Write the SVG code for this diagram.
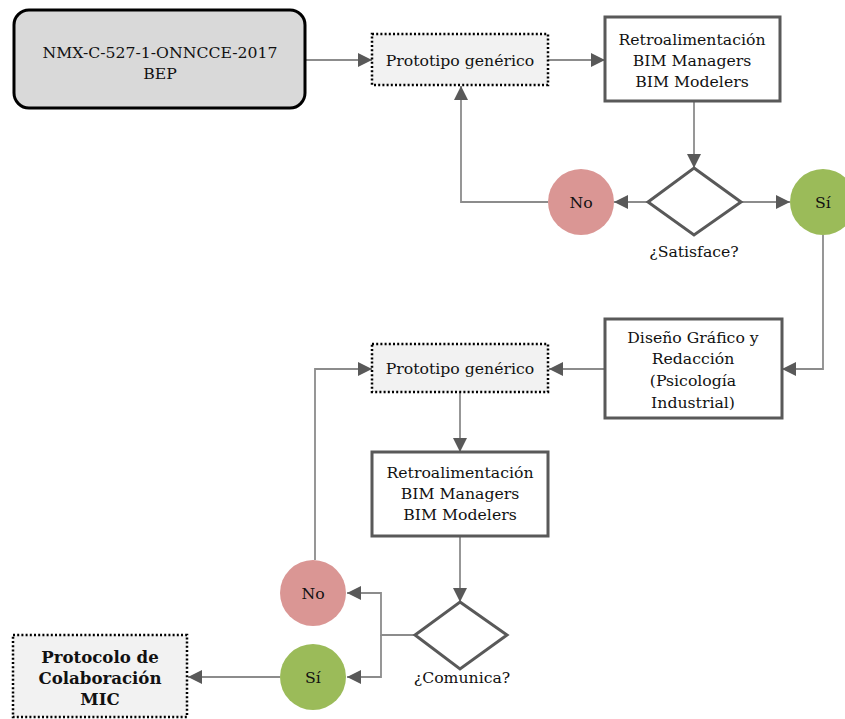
<svg xmlns="http://www.w3.org/2000/svg" width="845" height="719" viewBox="0 0 845 719">
<defs>
<marker id="ah" viewBox="0 0 14 14" refX="14" refY="7" markerWidth="14" markerHeight="14" markerUnits="userSpaceOnUse" orient="auto">
<path d="M0,0 L14,7 L0,14 Z" fill="#595959"/>
</marker>
</defs>
<style>
text{font-family:"DejaVu Serif","Liberation Serif",serif;font-size:15.7px;fill:#111;text-anchor:middle;dominant-baseline:central}
.b{font-weight:bold;font-size:16.6px}
.proto{fill:#f2f2f2;stroke:#000;stroke-width:2.5;stroke-dasharray:2 2.2}
.box{fill:#fff;stroke:#595959;stroke-width:3}
.dia{fill:#fff;stroke:#595959;stroke-width:3}
.no{fill:#da9694}
.si{fill:#9bbb59}
.c{fill:none;stroke:#8c8c8c;stroke-width:1.8}
.c path{marker-end:url(#ah)}
</style>
<rect width="845" height="719" fill="#fff"/>
<g id="connectors" class="c">
<path d="M305,60 H372"/>
<path d="M548,60 H605"/>
<path d="M694,101 V168"/>
<path d="M648,202 H614"/>
<path d="M741,202 H790"/>
<path d="M548,202 H461 V86"/>
<path d="M823,235 V369 H782"/>
<path d="M605,369 H549"/>
<path d="M460,392 V452"/>
<path d="M315,560 V369 H372"/>
<path d="M460,536 V602"/>
<path d="M415,635 H381 V593 H347"/>
<path d="M381,635 V677 H347"/>
<path d="M280,677 H188"/>
</g>
<g id="nmx">
<rect x="14" y="10" width="291" height="98" rx="15" fill="#d9d9d9" stroke="#000" stroke-width="3"/>
<text x="160" y="52">NMX-C-527-1-ONNCCE-2017</text>
<text x="160" y="73">BEP</text>
</g>
<g id="proto1">
<rect class="proto" x="372" y="34" width="176" height="51"/>
<text x="460" y="60">Prototipo genérico</text>
</g>
<g id="retro1">
<rect class="box" x="605" y="17" width="175" height="84"/>
<text x="692" y="39">Retroalimentación</text>
<text x="692" y="60">BIM Managers</text>
<text x="692" y="81">BIM Modelers</text>
</g>
<g id="satisface">
<path class="dia" d="M694,168 L741,202 L694,235 L648,202 Z"/>
<text x="694" y="251">¿Satisface?</text>
</g>
<g id="no1">
<circle class="no" cx="581" cy="202" r="33"/>
<text x="581" y="202">No</text>
</g>
<g id="si1">
<circle class="si" cx="823" cy="202" r="33"/>
<text x="823" y="202">Sí</text>
</g>
<g id="diseno">
<rect class="box" x="605" y="319" width="177" height="99"/>
<text x="693" y="337">Diseño Gráfico y</text>
<text x="693" y="358">Redacción</text>
<text x="693" y="380">(Psicología</text>
<text x="693" y="402">Industrial)</text>
</g>
<g id="proto2">
<rect class="proto" x="372" y="344" width="176" height="48"/>
<text x="460" y="368">Prototipo genérico</text>
</g>
<g id="retro2">
<rect class="box" x="372" y="452" width="176" height="84"/>
<text x="460" y="472">Retroalimentación</text>
<text x="460" y="493">BIM Managers</text>
<text x="460" y="514">BIM Modelers</text>
</g>
<g id="comunica">
<path class="dia" d="M460,602 L507,635 L460,669 L415,635 Z"/>
<text x="462" y="677">¿Comunica?</text>
</g>
<g id="no2">
<circle class="no" cx="313" cy="593" r="33"/>
<text x="313" y="593">No</text>
</g>
<g id="si2">
<circle class="si" cx="313" cy="677" r="33"/>
<text x="313" y="677">Sí</text>
</g>
<g id="protocolo">
<rect class="proto" x="13" y="635" width="174" height="82"/>
<text class="b" x="100" y="657">Protocolo de</text>
<text class="b" x="100" y="678">Colaboración</text>
<text class="b" x="100" y="699">MIC</text>
</g>
</svg>
